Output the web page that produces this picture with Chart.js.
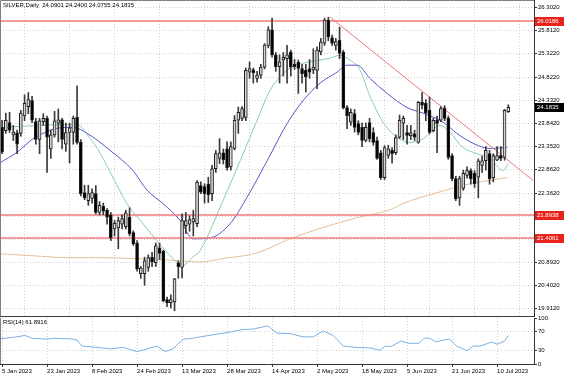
<!DOCTYPE html>
<html>
<head>
<meta charset="utf-8">
<script src="https://cdn.jsdelivr.net/npm/chart.js@4.4.1/dist/chart.umd.min.js"></script>
<style>
  body { margin: 0; background: #fff; width: 564px; height: 376px; overflow: hidden; position: relative; font-family: "Liberation Sans", Arial, sans-serif; }
  canvas { position: absolute; left: 0; }
  #main { top: 0; }
  #rsi { top: 313px; }
  .lbl { position: absolute; left: 3px; font-size: 6px; color: #000; white-space: pre; line-height: 7px; }
</style>
</head>
<body>
<canvas id="main" width="564" height="317"></canvas>
<canvas id="rsi" width="564" height="63"></canvas>
<div class="lbl" style="top:2px">SILVER,Daily  24.0901 24.2400 24.0755 24.1835</div>
<div class="lbl" style="top:319px">RSI(14) 61.8916</div>
<script>
// daily candles, bar 0 = 5 Jan 2023 ... bar 135 = last bar
const opens = [23.76,23.69,23.86,23.60,23.64,23.63,24.00,24.20,24.33,23.88,23.50,23.88,23.95,23.30,23.60,23.85,23.92,23.40,23.65,23.65,
  23.97,23.44,22.37,22.20,22.25,22.35,21.95,22.08,22.00,21.90,21.60,21.62,21.70,21.65,21.85,21.52,21.30,20.65,20.65,20.78,
  21.00,20.88,21.20,21.13,20.10,20.03,20.05,20.88,20.78,21.67,21.70,21.75,21.71,22.52,22.50,22.55,22.35,22.88,23.10,23.22,
  23.30,22.92,23.31,23.91,23.95,23.97,24.93,24.98,24.80,24.87,25.04,25.50,25.83,25.30,25.05,25.19,25.22,25.36,25.10,25.14,
  25.01,24.97,25.01,24.98,24.97,25.36,25.55,26.04,25.66,25.50,25.61,25.36,24.18,23.87,24.05,23.84,23.76,23.48,23.86,23.65,
  23.48,23.22,22.69,23.16,23.27,23.22,23.55,23.85,23.65,23.58,23.62,23.44,24.29,24.27,24.12,23.69,23.91,23.91,24.17,23.95,
  23.16,22.67,22.26,22.46,22.74,22.84,22.78,22.70,22.95,23.05,23.20,22.69,23.06,23.16,23.12,24.0901];
const highs = [23.91,24.06,24.08,23.80,23.70,24.12,24.45,24.50,24.42,23.95,23.95,24.05,24.00,23.70,24.10,24.15,23.95,23.85,23.85,24.00,
  24.64,23.50,22.53,22.53,22.45,22.52,22.18,22.15,22.03,21.95,21.78,21.85,21.90,22.00,22.05,21.56,21.35,20.80,21.00,21.05,
  21.10,21.30,21.30,21.15,20.15,20.20,20.55,20.92,21.92,21.95,21.88,22.00,22.63,22.60,22.56,22.70,22.95,23.27,23.52,23.30,
  23.45,23.45,24.01,24.19,24.20,25.02,25.15,25.02,24.95,25.10,25.54,25.90,26.08,25.35,25.30,25.35,25.50,25.40,25.20,25.19,
  25.10,25.10,25.20,25.43,25.47,25.65,26.08,26.10,25.72,25.65,25.89,25.40,24.22,24.15,24.14,23.90,23.85,23.85,23.95,23.75,
  23.55,23.27,23.37,23.38,23.33,23.60,24.02,24.00,23.80,23.80,23.70,24.31,24.50,24.35,24.40,23.95,24.00,24.20,24.22,24.00,
  23.20,22.72,22.72,22.85,22.92,22.88,22.84,23.09,23.15,23.35,23.27,23.20,23.35,23.35,24.14,24.2400];
const lows = [23.20,23.63,23.65,23.48,23.20,23.57,23.90,24.05,23.86,23.40,23.20,23.80,22.80,23.10,23.55,23.45,23.30,23.25,23.00,23.40,
  23.40,22.30,22.22,22.10,22.15,21.92,21.90,21.90,21.70,21.35,21.45,21.18,21.60,21.60,21.45,21.25,20.70,20.55,20.40,20.70,
  20.80,20.80,20.95,20.05,19.95,19.92,19.86,20.55,20.56,21.50,21.55,21.45,21.65,22.35,22.15,22.16,22.20,22.80,22.99,22.98,
  22.85,22.85,23.28,23.63,23.90,23.90,24.80,24.70,24.72,24.80,25.00,25.45,25.25,24.95,24.70,24.85,24.70,24.85,24.99,24.48,
  24.70,24.51,24.80,24.90,24.58,25.30,25.50,25.60,25.50,25.40,25.22,24.15,23.73,23.80,23.66,23.60,23.35,23.45,23.45,23.38,
  23.08,22.65,22.65,23.10,23.00,23.18,23.52,23.50,23.40,23.50,23.48,23.42,24.15,23.90,23.62,23.66,23.22,23.88,23.90,23.08,
  22.62,22.20,22.10,22.42,22.68,22.55,22.48,22.26,22.80,22.85,22.55,22.60,23.05,23.05,23.06,24.0755];
const closes = [23.23,23.91,23.70,23.66,23.40,24.06,24.27,24.35,23.91,23.50,23.90,23.95,23.55,23.60,23.90,23.92,23.50,23.65,23.75,23.95,
  23.44,22.35,22.26,22.35,22.37,21.95,22.10,21.98,21.85,21.41,21.72,21.78,21.82,21.94,21.50,21.28,20.75,20.77,20.92,20.99,
  20.90,21.24,21.08,20.07,20.03,20.10,20.54,20.80,21.78,21.78,21.80,21.82,22.59,22.38,22.35,22.33,22.88,23.20,23.22,23.07,
  22.90,23.35,23.91,24.08,24.16,24.97,25.01,24.92,24.87,25.04,25.51,25.83,25.30,25.05,25.15,25.25,25.30,25.04,25.05,25.01,
  24.90,24.83,24.93,25.04,25.40,25.57,26.04,25.68,25.55,25.58,25.33,24.18,24.01,24.08,23.76,23.65,23.48,23.76,23.52,23.44,
  23.10,22.69,23.33,23.30,23.20,23.54,23.91,23.95,23.59,23.64,23.55,24.29,24.23,24.06,23.65,23.91,23.84,24.16,23.95,23.12,
  22.67,22.24,22.67,22.78,22.84,22.67,22.56,23.05,23.05,23.27,22.67,23.16,23.16,23.10,24.12,24.1835];

// moving averages at sample bars
const maFastBar = [0,10,20,23.5,26,29.6,33.3,37.6,41.3,45.6,48,51,52.8,58.9,63.5,68,71.5,76.8,81.3,87.5,90,92.8,95.5,98,101.6,105.3,108.8,112.3,116.8,119.5,122.9,126.7,130.1,133.6,135];
const maFast = [23.76,23.80,23.82,23.52,23.23,22.69,22.14,21.71,21.35,20.97,20.82,21.01,21.14,22.20,23.05,23.91,24.55,25.02,25.14,25.23,25.29,25.19,24.97,24.44,23.87,23.55,23.44,23.52,23.80,23.65,23.33,23.20,23.10,22.84,22.99];
const maMidBar = [-0.5,4,8.3,10.9,14.7,18.9,22.7,28.8,34.9,38.7,42.9,47.5,50.9,55.5,60.8,65.3,70.7,76,80.3,84.8,89.3,92,94.7,98.1,102.7,108,112.3,117.6,121.3,125.6,130.1,134.7];
const maMid = [23.01,23.23,23.52,23.63,23.74,23.76,23.63,23.27,22.84,22.42,22.14,21.78,21.39,21.41,21.71,22.27,23.05,23.84,24.33,24.70,24.93,25.08,25.08,24.80,24.48,24.18,24.06,23.87,23.63,23.42,23.31,23.33];
const maSlowBar = [-0.5,8.3,17.3,26.1,34.9,44,52.8,58.9,68,76.8,85.6,94.7,103.5,106.9,116,124.8,134.7];
const maSlow = [21.07,21.03,20.99,20.99,20.97,20.94,20.90,20.97,21.09,21.39,21.63,21.84,22.01,22.14,22.37,22.56,22.69];

// horizontal levels and trend line
const levels = [26.0186, 21.8938, 21.4061];
const trendBar = [87.5, 141.6];
const trendPrice = [26.10, 22.63];

// RSI(14)
const rsiBar = [-0.5,3,6.1,8,10.1,12,14.1,16.3,18.1,20,21.3,22.9,25.3,28.8,32.3,36,38.7,41.3,43.5,45.6,48.3,51,52.8,59,64.3,67,70.9,73.3,76.8,80.3,83,85.6,88.3,91,94.7,98.1,100.8,102.1,103.7,106.4,108.5,111.2,112.5,114,115.7,117.5,119.3,121.2,124,125.6,127.5,129.3,130.6,132,134,135];
const rsiVals = [55,58,62,56,55,54,56,55,55,52,39,38,36,33,36,27,33,39,27,33,54,56,59,67,75,76,83,67,66,59,59,72,62,39,36,35,30,39,38,50,45,45,56,56,48,52,54,39,29,39,39,44,48,43,50,61.89];

// axes
const yTickVals = [26.302,25.812,25.322,24.822,24.332,23.842,23.352,22.862,22.362,21.872,21.382,20.892,20.402,19.912];
const xTickBars = [0,12,24,36,48,60,72,84,96,108,120,132];
const xTickLabels = ['5 Jan 2023','23 Jan 2023','8 Feb 2023','24 Feb 2023','13 Mar 2023','28 Mar 2023','14 Apr 2023','2 May 2023','18 May 2023','5 Jun 2023','21 Jun 2023','10 Jul 2023'];
const rsiTicks = [100,70,30,0];

const X_MIN = -0.55, X_MAX = 141.85;
const Y_MIN = 19.728, Y_MAX = 26.466;
const FONT = { family: 'Liberation Sans', size: 6 };
const GRID = '#cfcfcf';

Chart.defaults.font.family = 'Liberation Sans';
Chart.defaults.color = '#000';

const pts = (xs, ys) => xs.map((x, i) => ({ x: x, y: ys[i] }));
const lineDs = (data, color, w) => ({
  type: 'line', data: data, borderColor: color, borderWidth: w, pointRadius: 0,
  cubicInterpolationMode: 'monotone', order: 3
});

const wicks = closes.map((c, i) => ({ x: i, y: [lows[i], highs[i]] }));
const bodies = closes.map((c, i) => ({ x: i, y: [opens[i], c] }));
const up = closes.map((c, i) => c >= opens[i]);

const mainDeco = {
  id: 'mainDeco',
  afterDraw(chart) {
    const { ctx, chartArea: a, scales: { y } } = chart;
    ctx.save();
    ctx.strokeStyle = '#808080';
    ctx.lineWidth = 1;
    ctx.beginPath();
    ctx.moveTo(0.5, a.bottom); ctx.lineTo(0.5, 0.5); ctx.lineTo(a.right, 0.5);
    ctx.stroke();
    ctx.fillStyle = '#3c3c3c';
    ctx.fillRect(0, a.bottom - 1, a.right + 1, 2);
    ctx.font = '6px "Liberation Sans"';
    ctx.textBaseline = 'middle';
    const box = (v, bg) => {
      const py = Math.round(y.getPixelForValue(v));
      ctx.fillStyle = bg;
      ctx.fillRect(a.right + 1, py - 4, 29, 9);
      ctx.fillStyle = '#fff';
      ctx.fillText(v.toFixed(4), a.right + 3, py + 0.5);
    };
    levels.forEach(v => box(v, '#e8231c'));
    box(closes[closes.length - 1], '#000');
    ctx.restore();
  }
};

new Chart(document.getElementById('main'), {
  type: 'bar',
  data: {
    datasets: [
      lineDs(pts(maSlowBar, maSlow), '#e9bf96', 1),
      lineDs(pts(maMidBar, maMid), '#5a55c8', 1),
      lineDs(pts(maFastBar, maFast), '#86cdb0', 1),
      ...levels.map(v => ({ type: 'line', data: [{ x: X_MIN, y: v }, { x: X_MAX, y: v }], borderColor: '#f07b7b', borderWidth: 1.5, pointRadius: 0, order: 2 })),
      { type: 'line', data: pts(trendBar, trendPrice), borderColor: '#ee7777', borderWidth: 1, pointRadius: 0, order: 2 },
      { type: 'bar', data: wicks, grouped: false, barThickness: 1, backgroundColor: '#3a3a3a', order: 1 },
      { type: 'bar', data: bodies, grouped: false, barThickness: 3, minBarLength: 1,
        backgroundColor: up.map(u => u ? '#d4d4d4' : '#000'), borderColor: '#1e1e1e', borderWidth: 1,
        borderSkipped: false, order: 0 }
    ]
  },
  options: {
    responsive: false, animation: false, events: [],
    layout: { padding: 0 },
    plugins: { legend: { display: false }, tooltip: { enabled: false } },
    scales: {
      x: {
        type: 'linear', min: X_MIN, max: X_MAX, offset: false,
        afterBuildTicks: s => { s.ticks = xTickBars.map(v => ({ value: v })); },
        ticks: { display: false },
        grid: { color: GRID, drawTicks: false },
        border: { display: false, dash: [1, 2] }
      },
      y: {
        position: 'right', min: Y_MIN, max: Y_MAX, beginAtZero: false,
        afterBuildTicks: s => { s.ticks = yTickVals.map(v => ({ value: v })); },
        afterFit: s => { s.width = 30; s.paddingTop = 0; s.paddingBottom = 0; },
        ticks: { font: FONT, color: '#000', padding: 1, callback: v => v.toFixed(4) },
        grid: { color: GRID, tickLength: 3, tickColor: '#333' },
        border: { display: true, color: '#333', dash: [1, 2] }
      }
    }
  },
  plugins: [mainDeco]
});

const rsiDeco = {
  id: 'rsiDeco',
  afterDraw(chart) {
    const { ctx, chartArea: a } = chart;
    ctx.save();
    ctx.strokeStyle = '#808080';
    ctx.beginPath();
    ctx.moveTo(0.5, a.top); ctx.lineTo(0.5, a.bottom);
    ctx.stroke();
    ctx.restore();
  }
};

new Chart(document.getElementById('rsi'), {
  type: 'line',
  data: {
    datasets: [{ data: pts(rsiBar, rsiVals), borderColor: '#7db0e2', borderWidth: 1, pointRadius: 0 }]
  },
  options: {
    responsive: false, animation: false, events: [],
    layout: { padding: { top: 5 } },
    plugins: { legend: { display: false }, tooltip: { enabled: false } },
    scales: {
      x: {
        type: 'linear', min: X_MIN, max: X_MAX, offset: false,
        afterBuildTicks: s => { s.ticks = xTickBars.map(v => ({ value: v })); },
        afterFit: s => { s.height = 12; s.paddingLeft = 0; s.paddingRight = 0; },
        ticks: { font: FONT, color: '#000', autoSkip: false, maxRotation: 0, align: 'start', padding: 1,
          callback: (v, i) => xTickLabels[i] },
        grid: { color: GRID, tickLength: 3, tickColor: '#333' },
        border: { display: true, color: '#333', dash: [1, 2] }
      },
      y: {
        position: 'right', min: 0, max: 100,
        afterBuildTicks: s => { s.ticks = rsiTicks.map(v => ({ value: v })); },
        afterFit: s => { s.width = 30; s.paddingTop = 0; s.paddingBottom = 0; },
        ticks: { font: FONT, color: '#000', padding: 1 },
        grid: { color: c => (c.tick && (c.tick.value === 70 || c.tick.value === 30)) ? GRID : 'rgba(0,0,0,0)', tickLength: 3, tickColor: '#333' },
        border: { display: true, color: '#333', dash: [1, 2] }
      }
    }
  },
  plugins: [rsiDeco]
});
</script>
</body>
</html>
